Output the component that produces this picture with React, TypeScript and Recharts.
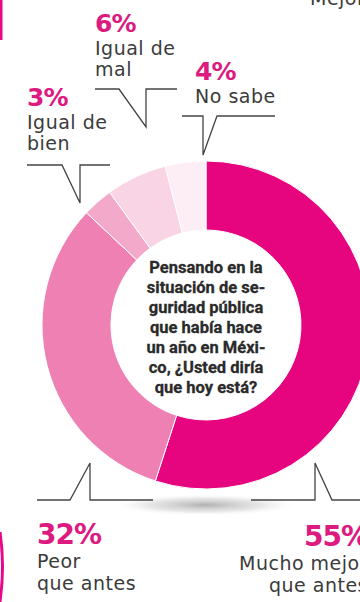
import { PieChart, Pie, Cell } from 'recharts'

const categories = ['Mucho mejor que antes', 'Peor que antes', 'Igual de bien', 'Igual de mal', 'No sabe']
const shares = [55, 32, 3, 6, 4]
const sliceColors = ['#e6057f', '#ef80b3', '#f3a9c9', '#f8d4e4', '#fdedf4']

const question = [
  'Pensando en la',
  'situación de se-',
  'guridad pública',
  'que había hace',
  'un año en Méxi-',
  'co, ¿Usted diría',
  'que hoy está?',
]

const data = categories.map((name, i) => ({ name, value: shares[i] }))

const W = 360
const H = 602
const pctColor = '#dc1a80'
const txtColor = '#3b3b3b'
const labelFont = '"DejaVu Sans", sans-serif'

type Callout = {
  pct: string
  lines: string[]
  x: number
  y: number
  anchor: 'start' | 'end'
  path: string
}

// label blocks, same order as categories
const callouts: Callout[] = [
  { pct: '55%', lines: ['Mucho mejor', 'que antes'], x: 368, y: 546, anchor: 'end', path: '251,500 315,500 315,463 332,500 362,500' },
  { pct: '32%', lines: ['Peor', 'que antes'], x: 37, y: 544, anchor: 'start', path: '37,500 70,500 90,463 90,500 153,500' },
  { pct: '3%', lines: ['Igual de', 'bien'], x: 27, y: 106, anchor: 'start', path: '27,165 62,165 80,203 80,165 110,165' },
  { pct: '6%', lines: ['Igual de', 'mal'], x: 95, y: 32, anchor: 'start', path: '95,89 119,89 146,127 146,89 177,89' },
  { pct: '4%', lines: ['No sabe'], x: 195, y: 80, anchor: 'start', path: '182,116 203,116 203,155 217,116 275,116' },
]

function Label({ c }: { c: Callout }) {
  const big = c.pct.length > 2
  return (
    <g>
      <polyline points={c.path} fill="none" stroke="#444" strokeWidth={1.3} />
      <text
        x={c.x}
        y={c.y}
        textAnchor={c.anchor}
        fontFamily={labelFont}
        fontWeight={700}
        fontSize={big ? 28 : 25}
        letterSpacing={-1}
        fill={pctColor}
      >
        {c.pct}
      </text>
      {c.lines.map((l, i) => (
        <text
          key={l}
          x={c.x}
          y={c.y + (big ? 24 : 23) + i * (big ? 22 : 21)}
          textAnchor={c.anchor}
          fontFamily={labelFont}
          fontSize={19}
          letterSpacing={0.5}
          fill={txtColor}
        >
          {l}
        </text>
      ))}
    </g>
  )
}

export default function App() {
  return (
    <div style={{ position: 'absolute', left: 0, top: 0, width: W, height: H, background: '#fff', overflow: 'hidden' }}>
      <svg width={W} height={H} style={{ position: 'absolute', left: 0, top: 0 }}>
        <defs>
          <radialGradient id="shadow">
            <stop offset="0%" stopColor="#a8a8a8" stopOpacity={0.9} />
            <stop offset="60%" stopColor="#cfcfcf" stopOpacity={0.5} />
            <stop offset="100%" stopColor="#ffffff" stopOpacity={0} />
          </radialGradient>
        </defs>
        <ellipse cx={205} cy={505} rx={95} ry={11} fill="url(#shadow)" />
      </svg>
      <div style={{ position: 'absolute', left: 0, top: 0 }}>
        <PieChart width={W} height={H} margin={{ top: 0, right: 0, bottom: 0, left: 0 }}>
          <Pie
            data={data}
            dataKey="value"
            nameKey="name"
            cx={206}
            cy={325}
            innerRadius={95}
            outerRadius={164}
            startAngle={90}
            endAngle={-270}
            stroke="#ffffff"
            strokeWidth={1}
            isAnimationActive={false}
          >
            {data.map((d, i) => (
              <Cell key={d.name} fill={sliceColors[i]} />
            ))}
          </Pie>
        </PieChart>
      </div>
      <svg width={W} height={H} style={{ position: 'absolute', left: 0, top: 0, pointerEvents: 'none' }}>
        {/* bits of the neighbouring graphics, cut by the crop */}
        <rect x={0} y={0} width={2.5} height={40} fill="#e8078a" />
        <path d="M 0 532 Q 5 566 0 602" fill="none" stroke="#e8078a" strokeWidth={3} />
        <text x={310} y={5} fontFamily={labelFont} fontSize={19} letterSpacing={0.5} fill={txtColor}>
          Mejor
        </text>

        {callouts.map((c) => (
          <Label key={c.pct} c={c} />
        ))}

        {question.map((q, i) => (
          <text
            key={q}
            x={206}
            y={273 + i * 20}
            textAnchor="middle"
            fontFamily="Roboto, sans-serif"
            fontWeight={700}
            fontSize={16.5}
            stroke="#2a2a2a"
            strokeWidth={0.3}
            fill="#2a2a2a"
          >
            {q}
          </text>
        ))}
      </svg>
    </div>
  )
}
